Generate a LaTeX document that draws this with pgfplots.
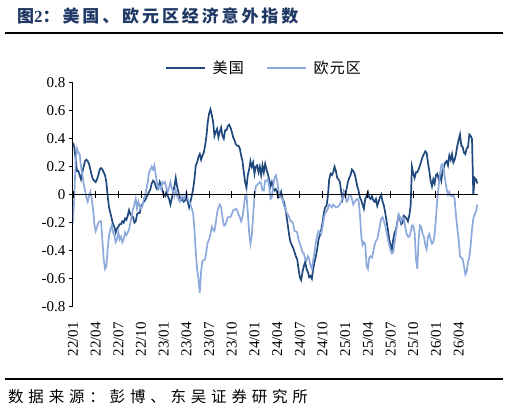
\documentclass[border=0pt]{standalone}
\usepackage{pgfplots}
\pgfplotsset{compat=1.18}
\usepackage{pgfplotstable}
\usepackage{fontspec}
\setmainfont{Liberation Serif}
\newfontfamily\cjk{Noto Sans CJK SC}

\definecolor{usblue}{RGB}{31,73,125}
\definecolor{eublue}{RGB}{142,169,219}
\definecolor{titleblue}{RGB}{31,56,100}

% Weekly readings of the economic surprise indices (index 0 = early Jan 2022)
\pgfplotstableread{
us eu
0.37 -0.20
0.34 -0.01
0.25 0.25
0.17 0.33
0.17 0.30
0.14 0.29
0.11 0.20
0.16 0.14
0.20 0.08
0.24 0.03
0.25 -0.02
0.24 -0.05
0.22 -0.01
0.18 0.02
0.14 -0.03
0.11 -0.10
0.10 -0.21
0.09 -0.26
0.11 -0.23
0.14 -0.20
0.18 -0.19
0.19 -0.19
0.18 -0.32
0.16 -0.46
0.14 -0.53
0.09 -0.51
-0.01 -0.39
-0.09 -0.29
-0.13 -0.25
-0.17 -0.22
-0.21 -0.27
-0.23 -0.29
-0.27 -0.34
-0.24 -0.32
-0.23 -0.27
-0.21 -0.32
-0.21 -0.30
-0.19 -0.34
-0.20 -0.32
-0.17 -0.27
-0.18 -0.29
-0.15 -0.27
-0.11 -0.25
-0.14 -0.20
-0.15 -0.15
-0.16 -0.10
-0.20 -0.07
-0.19 -0.03
-0.14 -0.10
-0.13 -0.05
-0.13 -0.08
-0.08 -0.10
-0.07 -0.08
-0.05 -0.03
-0.04 -0.01
-0.02 0.04
0.00 0.09
0.02 0.16
0.04 0.18
0.08 0.20
0.10 0.18
0.09 0.21
0.06 0.14
0.04 0.08
0.05 0.04
0.09 0.06
0.06 0.04
0.03 0.09
0.00 0.08
-0.01 0.09
0.02 0.05
-0.01 0.02
-0.03 0.05
-0.07 0.09
-0.03 0.05
0.02 0.02
0.06 -0.01
0.12 0.03
0.06 -0.01
0.02 -0.03
-0.02 -0.05
-0.04 -0.03
-0.03 -0.01
-0.05 -0.03
-0.04 -0.01
-0.02 0.02
-0.05 -0.03
-0.09 -0.05
-0.05 -0.07
-0.01 -0.10
0.04 -0.13
0.11 -0.25
0.21 -0.41
0.23 -0.53
0.27 -0.60
0.29 -0.70
0.25 -0.55
0.28 -0.47
0.30 -0.47
0.35 -0.46
0.42 -0.40
0.52 -0.34
0.58 -0.32
0.61 -0.28
0.57 -0.23
0.52 -0.25
0.42 -0.26
0.45 -0.20
0.47 -0.13
0.41 -0.09
0.45 -0.07
0.48 -0.09
0.42 -0.16
0.40 -0.22
0.46 -0.22
0.46 -0.19
0.49 -0.16
0.50 -0.16
0.48 -0.16
0.45 -0.14
0.41 -0.11
0.39 -0.11
0.36 -0.10
0.35 -0.11
0.35 -0.14
0.33 -0.16
0.28 -0.19
0.24 -0.16
0.16 -0.09
0.09 -0.01
0.05 0.00
0.14 -0.13
0.18 -0.27
0.24 -0.35
0.20 -0.29
0.23 -0.15
0.15 -0.01
0.20 0.06
0.21 0.07
0.16 0.08
0.20 0.09
0.14 0.08
0.21 0.03
0.16 0.03
0.22 0.10
0.18 0.10
0.15 0.11
0.11 0.06
0.06 -0.03
0.09 -0.02
0.05 0.06
0.03 0.12
0.04 0.14
0.02 0.10
-0.02 0.03
-0.01 -0.01
0.02 -0.02
-0.03 -0.03
-0.05 -0.08
-0.09 -0.09
-0.15 -0.13
-0.22 -0.14
-0.29 -0.16
-0.34 -0.19
-0.36 -0.19
-0.38 -0.21
-0.41 -0.26
-0.44 -0.26
-0.46 -0.27
-0.53 -0.32
-0.59 -0.35
-0.61 -0.38
-0.55 -0.41
-0.51 -0.42
-0.48 -0.46
-0.53 -0.47
-0.55 -0.44
-0.59 -0.46
-0.58 -0.51
-0.60 -0.53
-0.53 -0.47
-0.48 -0.41
-0.44 -0.34
-0.39 -0.29
-0.32 -0.26
-0.29 -0.27
-0.25 -0.28
-0.20 -0.23
-0.13 -0.17
-0.09 -0.13
-0.08 -0.12
-0.01 -0.10
0.11 -0.07
0.15 -0.08
0.14 -0.09
0.16 -0.07
0.20 -0.08
0.17 -0.09
0.12 -0.09
0.11 -0.08
0.09 -0.07
0.02 -0.05
-0.03 -0.02
0.02 0.02
-0.01 0.00
0.04 -0.05
0.09 -0.04
0.12 0.00
0.14 0.00
0.18 -0.03
0.17 -0.07
0.15 -0.05
0.11 -0.04
0.06 -0.03
0.03 -0.04
-0.02 -0.14
-0.04 -0.29
-0.07 -0.36
-0.10 -0.34
-0.03 -0.35
-0.01 -0.51
0.02 -0.53
-0.02 -0.45
-0.03 -0.44
-0.01 -0.45
-0.04 -0.41
-0.05 -0.36
-0.03 -0.33
-0.08 -0.32
-0.05 -0.27
-0.02 -0.22
0.00 -0.17
-0.05 -0.16
-0.08 -0.19
-0.13 -0.22
-0.19 -0.27
-0.25 -0.32
-0.32 -0.36
-0.36 -0.40
-0.39 -0.42
-0.32 -0.41
-0.27 -0.34
-0.25 -0.27
-0.20 -0.21
-0.15 -0.14
-0.17 -0.16
-0.21 -0.19
-0.20 -0.16
-0.15 -0.17
-0.16 -0.23
-0.17 -0.28
-0.19 -0.30
-0.15 -0.30
-0.08 -0.27
0.20 -0.22
0.15 -0.22
0.12 -0.27
0.16 -0.46
0.16 -0.53
0.18 -0.32
0.21 -0.22
0.24 -0.23
0.27 -0.28
0.29 -0.30
0.31 -0.36
0.30 -0.39
0.23 -0.30
0.17 -0.28
0.10 -0.32
0.06 -0.35
0.11 -0.34
0.08 -0.28
0.14 -0.17
0.15 -0.03
0.11 0.06
0.14 0.15
0.10 0.21
0.17 0.22
0.20 0.17
0.23 0.10
0.24 0.04
0.21 0.00
0.28 0.02
0.25 -0.01
0.29 -0.01
0.23 0.00
0.25 -0.03
0.29 -0.15
0.35 -0.24
0.39 -0.32
0.43 -0.44
0.35 -0.45
0.34 -0.46
0.30 -0.51
0.29 -0.57
0.33 -0.55
0.34 -0.48
0.43 -0.45
0.42 -0.36
0.40 -0.25
0.00 -0.17
0.12 -0.14
0.11 -0.12
0.08 -0.07
}\surprise

\begin{document}
\begin{tikzpicture}[x=1pt,y=1pt]
\useasboundingbox (0,0) rectangle (509,413);

% title and rules
\node[anchor=west, inner sep=0pt, text=titleblue] at (17,397.5)
  {\cjk\bfseries\fontsize{17}{17}\selectfont\addfontfeatures{LetterSpace=17}图{\rmfamily\bfseries 2}：美国、欧元区经济意外指数};
\draw[line width=2pt] (5,379.7) -- (503,379.7);
\draw[line width=1.5pt] (5,34) -- (503,34);
\node[anchor=west, inner sep=0pt] at (8,16.3)
  {\cjk\fontsize{15.5}{15.5}\selectfont\addfontfeatures{LetterSpace=31}数据来源：彭博、东吴证券研究所};

% data, y axis and date labels
\begin{axis}[
  at={(73pt,106.3pt)}, anchor=south west,
  width=405pt, height=224pt, scale only axis,
  xmin=0, xmax=303.5, ymin=-0.8, ymax=0.8,
  axis y line*=left, axis x line*=bottom,
  x axis line style={draw=none},
  y axis line style={line width=1pt},
  xtick={0,17,34,51,68,85,102,119,136,153,170,187,204,221,238,255,272,289},
  xticklabels={22/01,22/04,22/07,22/10,23/01,23/04,23/07,23/10,24/01,24/04,24/07,24/10,25/01,25/04,25/07,25/10,26/01,26/04},
  xtick style={draw=none},
  xticklabel style={rotate=90, anchor=east, inner sep=0pt, font=\fontsize{15}{15}\selectfont},
  xticklabel shift=11.3pt,
  ytick={-0.8,-0.6,-0.4,-0.2,0,0.2,0.4,0.6,0.8},
  yticklabels={-0.8,-0.6,-0.4,-0.2,0,0.2,0.4,0.6,0.8},
  yticklabel style={font=\fontsize{15}{15}\selectfont},
  ytick style={line width=1pt, black},
  tick align=outside, major tick length=4pt,
  legend columns=2,
  legend image code/.code={\draw[#1] (0pt,0pt) -- (39pt,0pt);},
  legend style={at={(0.4716,1.0656)}, anchor=center, draw=none, fill=none,
    inner sep=0pt, column sep=5pt,
    /tikz/every even column/.append style={column sep=20pt},
    font=\cjk\fontsize{15}{15}\selectfont\addfontfeatures{LetterSpace=8}},
]
\addplot[usblue, line width=1.7pt] table[x expr=\coordindex, y=us] {\surprise};
\addlegendentry{美国}
\addplot[eublue, line width=1.7pt] table[x expr=\coordindex, y=eu] {\surprise};
\addlegendentry{欧元区}
\end{axis}

% zero line with quarterly ticks, on top of the series
\begin{axis}[
  at={(73pt,106.3pt)}, anchor=south west,
  width=405pt, height=224pt, scale only axis,
  xmin=0, xmax=303.5, ymin=-0.8, ymax=0.8,
  axis x line*=middle, axis y line=none,
  x axis line style={line width=1pt, black},
  xtick={0,17,34,51,68,85,102,119,136,153,170,187,204,221,238,255,272,289},
  xticklabels={}, ytick=\empty,
  xtick style={line width=1pt, black},
  tick align=center, major tick length=7pt,
]
\end{axis}
\end{tikzpicture}
\end{document}
